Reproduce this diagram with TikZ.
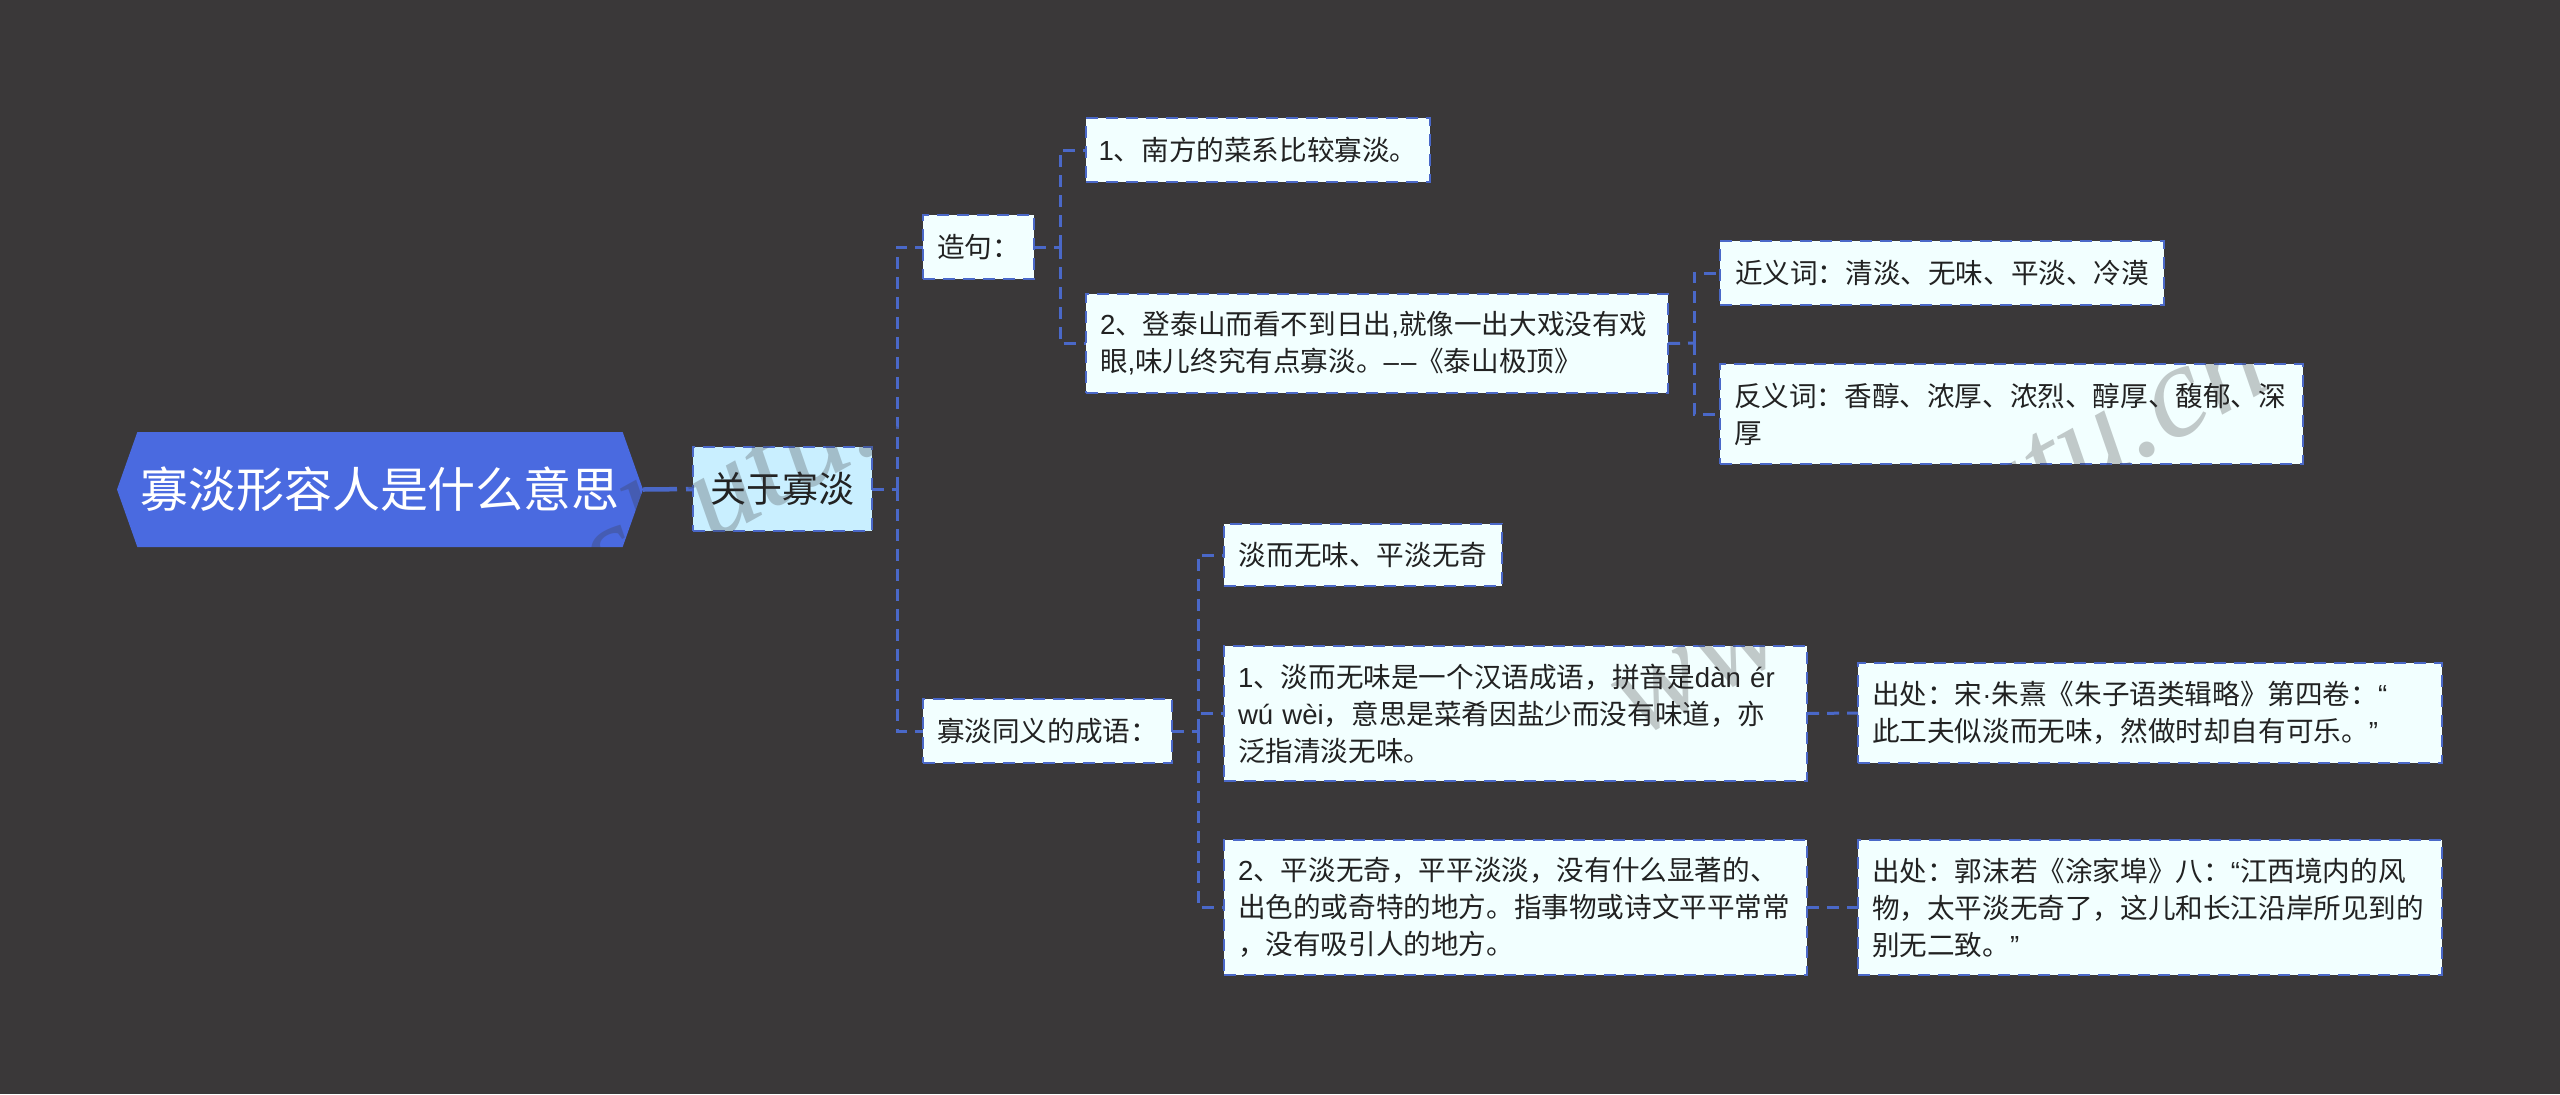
\documentclass[tikz,border=0pt]{standalone}
\usepackage{fontspec}
\setmainfont{Noto Sans CJK SC}
\newfontfamily\latinfont{Liberation Sans}
\newfontfamily\markfont{Liberation Serif}
\usetikzlibrary{shapes.symbols}
\usetikzlibrary{positioning}

\definecolor{canvasbg}{HTML}{3A3839}
\definecolor{rootblue}{HTML}{4A6AE0}
\definecolor{linkblue}{HTML}{4A68C8}
\definecolor{subfill}{HTML}{C9EFFF}
\definecolor{leaffill}{HTML}{F2FFFF}
\definecolor{inktext}{HTML}{222222}
\newcommand{\lat}[1]{{\latinfont #1}}

\tikzset{
  link/.style={linkblue, line width=1.5pt, dash pattern=on 6pt off 4pt},
  box/.style={draw=linkblue, line width=1.25pt, dash pattern=on 6pt off 4pt, anchor=north west, inner xsep=6pt, inner ysep=0pt, outer sep=0pt, text=inktext},
  leaf/.style={box, fill=leaffill, font=\fontsize{13.8}{18.5}\selectfont, align=left},
  wmark/.style={font=\markfont\itshape\fontsize{66}{66}\selectfont, text=canvasbg, text opacity=0.27, rotate=29}
}

\begin{document}
\begin{tikzpicture}[x=0.5pt, y=-0.5pt]
  \useasboundingbox (0,0) rectangle (2560,1094);
  \fill[canvasbg] (0,0) rectangle (2560,1094);

  % root
  \node[signal, signal to=west and east, signal pointer angle=141, fill=rootblue, inner sep=0pt, outer sep=0pt, minimum width=263pt, minimum height=57.5pt, text=white, font=\fontsize{24}{28}\selectfont] (root) at (380,489.5) {寡淡形容人是什么意思};

  % first level
  \node[box, fill=subfill, minimum width=89.5pt, minimum height=42pt, font=\fontsize{18}{22}\selectfont] (guan) at (693,447) {关于寡淡};
  \coordinate (busa) at (897,489);
  \node[leaf, minimum width=55.5pt, minimum height=32pt] (zao) at (923,215) {造句：};
  \node[leaf, minimum width=124.5pt, minimum height=32pt] (tong) at (923,699) {寡淡同义的成语：};

  % sentences
  \coordinate (busb) at (1060,247);
  \node[leaf, minimum width=172pt, minimum height=32pt] (one) at (1086,118) {\lat{1}、南方的菜系比较寡淡。};
  \node[leaf, minimum width=291pt, minimum height=49.5pt, text width=277pt] (two) at (1086,294) {\lat{2}、登泰山而看不到日出\lat{,}就像一出大戏没有戏\\眼\lat{,}味儿终究有点寡淡。\lat{–\kern1pt–}《泰山极顶》};
  \coordinate (busc) at (1694,343);
  \node[leaf, minimum width=222pt, minimum height=32pt] (jin) at (1720,241) {近义词：清淡、无味、平淡、冷漠};
  \node[leaf, minimum width=291.5pt, minimum height=50pt, text width=277.5pt] (fan) at (1720,364) {反义词：香醇、浓厚、浓烈、醇厚、馥郁、深\\厚};

  % idioms
  \coordinate (busd) at (1198,731);
  \node[leaf, minimum width=139pt, minimum height=31pt] (dan) at (1224,524) {淡而无味、平淡无奇};
  \node[leaf, minimum width=291.5pt, minimum height=67.5pt, text width=277.5pt] (yi) at (1224,646) {\lat{1}、淡而无味是一个汉语成语，拼音是\lat{dàn ér}\\\lat{wú wèi}，意思是菜肴因盐少而没有味道，亦\\泛指清淡无味。};
  \node[leaf, minimum width=291.5pt, minimum height=67.5pt, text width=277.5pt] (er) at (1224,840) {\lat{2}、平淡无奇，平平淡淡，没有什么显著的、\\出色的或奇特的地方。指事物或诗文平平常常\\，没有吸引人的地方。};
  \node[leaf, minimum width=292pt, minimum height=50pt, text width=278pt] (chua) at (1858,663) {出处：宋\lat{·}朱熹《朱子语类辑略》第四卷：\lat{“}\\此工夫似淡而无味，然做时却自有可乐。\lat{”}};
  \node[leaf, minimum width=292pt, minimum height=67.5pt, text width=278pt] (chub) at (1858,840) {出处：郭沫若《涂家埠》八：\lat{“}江西境内的风\\物，太平淡无奇了，这儿和长江沿岸所见到的\\别无二致。\lat{”}};

  % connectors
  \draw[link, line width=2.25pt, dash pattern=on 17pt off 4.5pt] (root.east) -- (guan.west);
  \draw[link] (guan.east) -- (busa);
  \draw[link] (busa) |- (zao.west);
  \draw[link] (busa) |- (tong.west);
  \draw[link] (zao.east) -- (busb);
  \draw[link] (busb) |- (one.west);
  \draw[link] (busb) |- (two.west);
  \draw[link] (two.east) -- (busc);
  \draw[link] (busc) |- (jin.west);
  \draw[link] (busc) |- (fan.west);
  \draw[link] (tong.east) -- (busd);
  \draw[link] (busd) |- (dan.west);
  \draw[link] (busd) |- (yi.west);
  \draw[link] (busd) |- (er.west);
  \draw[link] (yi.east) -- (chua.west);
  \draw[link] (er.east) -- (chub.west);

  % watermark
  \node[wmark] (marka) at (655,523) {www.shutu.cn};
  \node[wmark] (markb) at (1935,523) {www.shutu.cn};
\end{tikzpicture}
\end{document}
